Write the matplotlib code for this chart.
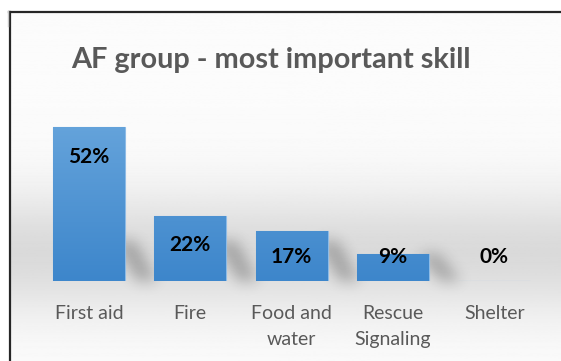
import numpy as np
import matplotlib.pyplot as plt
from matplotlib.colors import LinearSegmentedColormap
from matplotlib.lines import Line2D

# skill shares for the AF group
skills = ['First aid', 'Fire', 'Food and\nwater', 'Rescue\nSignaling', 'Shelter']
shares = [52, 22, 17, 9, 0]

TEXT_GRAY = '#595959'
FONT = ['Lato', 'DejaVu Sans']
W, H = 561, 361

plt.rcParams['font.family'] = FONT

fig = plt.figure(figsize=(W / 100, H / 100), dpi=100)
fig.patch.set_facecolor('white')

# soft vertical backdrop, darkest behind the bar bases
bg = fig.add_axes([11 / W, 0, 1 - 11 / W, 1 - 13 / H], zorder=-2)
rows = np.linspace(0, 1, 400)
shade = 0.985 - 0.13 * np.exp(-((rows - 0.69) / 0.18) ** 2)
bg.imshow(shade[:, None], cmap='gray', vmin=0, vmax=1,
          aspect='auto', extent=[0, 1, 0, 1], origin='upper')
bg.set_xlim(0, 1)
bg.set_ylim(0, 1)
bg.axis('off')

ax = fig.add_axes([38.3 / W, 80 / H, 506.7 / W, 177.6 / H])
ax.patch.set_alpha(0)
x = np.arange(len(skills))
bars = ax.bar(x, shares, width=0.71, color='#5b9bd5', edgecolor='#8dbbe6',
              linewidth=0.8, zorder=2)
ax.set_xlim(-0.5, len(skills) - 0.5)
ax.set_ylim(0, 60)

# vertical gradient fill clipped to each bar
blue = LinearSegmentedColormap.from_list('bar', ['#3d86cb', '#6aa7dd'])
grad = np.linspace(0, 1, 256)[:, None]
for b in bars:
    if b.get_height() <= 0:
        continue
    x0 = b.get_x()
    im = ax.imshow(grad, cmap=blue, origin='lower', aspect='auto',
                   extent=[x0, x0 + b.get_width(), 0, 60], zorder=2.5)
    im.set_clip_path(b)


def blur(a, sigma):
    k = np.arange(-3 * sigma, 3 * sigma + 1)
    k = np.exp(-0.5 * (k / sigma) ** 2)
    k /= k.sum()
    a = np.apply_along_axis(lambda r: np.convolve(r, k, mode='same'), 0, a)
    return np.apply_along_axis(lambda r: np.convolve(r, k, mode='same'), 1, a)


# slanted drop shadows falling to the right of each bar base
mask = np.zeros((H, W))
yy, xx = np.mgrid[0:H, 0:W] + 0.5
for b in bars:
    if b.get_height() <= 0:
        continue
    (px0, py0), (px1, py1) = ax.transData.transform(
        [(b.get_x(), 0), (b.get_x() + b.get_width(), b.get_height())])
    hs = min(py1 - py0, 40)
    t = (py0 + hs - yy) / hs
    inside = (t >= 0) & (t <= 1)
    left = px1 - 10 + 22 * t
    right = px1 + 10 + 22 * t
    mask[inside & (xx >= left) & (xx <= right)] = 1.0
mask = blur(mask, 7)
shadow = np.zeros((H, W, 4))
shadow[..., 3] = np.clip(mask * 0.26, 0, 1)
sh = fig.add_axes([0, 0, 1, 1], zorder=-1)
sh.imshow(shadow, origin='lower', extent=[0, W, 0, H], aspect='auto')
sh.set_xlim(0, W)
sh.set_ylim(0, H)
sh.axis('off')

for xi, v in zip(x, shares):
    ax.text(xi, max(v - 10, 8.1), f'{v}%', ha='center', va='center',
            fontsize=15, fontweight='bold', color='black', zorder=4)

ax.set_yticks([])
ax.set_xticks(x)
ax.set_xticklabels(skills, fontsize=14, color=TEXT_GRAY, linespacing=1.68)
ax.tick_params(axis='x', length=0, pad=17)
for s in ax.spines.values():
    s.set_visible(False)

fig.text(270.5 / W, 1 - 60 / H, 'AF group - most important skill',
         ha='center', va='center', fontsize=20.8, fontweight='bold',
         color=TEXT_GRAY)

# frame lines along the left and top edges
fig.add_artist(Line2D([10 / W, 10 / W], [0, 1 - 12 / H],
                      color='#262626', linewidth=1.6))
fig.add_artist(Line2D([9.4 / W, 1], [1 - 12 / H, 1 - 12 / H],
                      color='#262626', linewidth=1.6))
fig.add_artist(Line2D([8 / W, 8 / W], [1 - 11 / H, 1 - 26 / H],
                      color='#c8c8c8', linewidth=1.0))

fig.savefig('out.png', dpi=100)
